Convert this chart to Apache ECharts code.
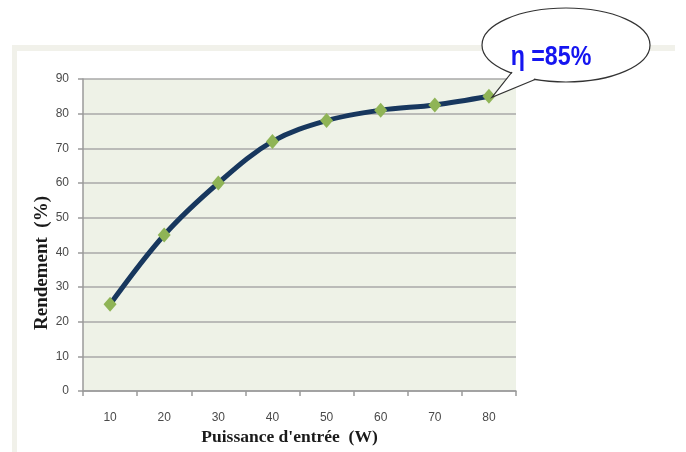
<!DOCTYPE html>
<html>
<head>
<meta charset="utf-8">
<script src="https://cdn.jsdelivr.net/npm/echarts@6/dist/echarts.min.js"></script>
<style>
  html, body { margin: 0; padding: 0; background: #ffffff; }
  #chart { width: 686px; height: 452px; }
</style>
</head>
<body>
<div id="chart"></div>
<script>
// Input power (W) and measured efficiency (%)
const puissance = ['10', '20', '30', '40', '50', '60', '70', '80'];
const rendement = [25, 45, 60, 72, 78, 81, 82.5, 85];
const yTicks = { min: 0, max: 90, interval: 10 };
const bubbleText = 'η =85%';

const chart = echarts.init(document.getElementById('chart'), null, { renderer: 'canvas' });

const option = {
  backgroundColor: '#ffffff',
  animation: false,
  grid: {
    left: 83, right: 170, top: 79, bottom: 61,
    outerBoundsMode: 'none',
    containLabel: false,
    show: true, backgroundColor: '#eef2e7', borderWidth: 0
  },
  xAxis: {
    type: 'category',
    data: puissance,
    boundaryGap: true,
    name: "Puissance d'entrée  (W)",
    nameLocation: 'middle',
    nameGap: 37,
    nameTextStyle: {
      fontFamily: 'Liberation Serif', fontWeight: 'bold', fontSize: 17.5,
      color: '#1a1a1a', padding: [0, 20, 0, 0]
    },
    axisLine: { show: true, lineStyle: { color: '#9a9a9a', width: 1.5 } },
    axisTick: { show: true, alignWithLabel: false, length: 5, lineStyle: { color: '#9a9a9a', width: 1.5 } },
    axisLabel: { margin: 21, fontFamily: 'Liberation Sans', fontSize: 12, color: '#4a4a4a' },
    splitLine: { show: false }
  },
  yAxis: {
    type: 'value',
    min: yTicks.min, max: yTicks.max, interval: yTicks.interval,
    name: 'Rendement  (%)',
    nameLocation: 'middle',
    nameGap: 31,
    nameMoveOverlap: false,
    nameRotate: 90,
    nameTextStyle: {
      fontFamily: 'Liberation Serif', fontWeight: 'bold', fontSize: 19,
      color: '#1a1a1a', padding: [0, 56, 0, 0]
    },
    axisLine: { show: true, lineStyle: { color: '#9a9a9a', width: 1.5 } },
    axisTick: { show: true, length: 5, lineStyle: { color: '#9a9a9a', width: 1.5 } },
    axisLabel: { margin: 14, fontFamily: 'Liberation Sans', fontSize: 12, color: '#4a4a4a' },
    splitLine: { show: true, lineStyle: { color: '#a8a8a8', width: 1.5 } }
  },
  series: [{
    type: 'line',
    data: rendement,
    smooth: 0.35,
    symbol: 'diamond',
    symbolSize: [13, 15],
    showAllSymbol: true,
    lineStyle: { color: '#17375e', width: 5 },
    itemStyle: { color: '#8fb456', borderWidth: 0 },
    z: 3
  }]
};

chart.setOption(option);

// Callout bubble pointing at the last measurement
const last = rendement.length - 1;
const tip = chart.convertToPixel({ seriesIndex: 0 }, [last, rendement[last]]);
const tipX = tip[0] + 3, tipY = tip[1] + 1;
const ell = { cx: 566, cy: 45, rx: 84, ry: 37 };
const baseA = [512, 72];
const baseB = [535, 79.5];

chart.setOption({
  graphic: [
    // light frame strips along top and left
    { type: 'rect', shape: { x: 12, y: 45, width: 663, height: 6 }, style: { fill: '#f1f1ea' }, z: 0, silent: true },
    { type: 'rect', shape: { x: 12, y: 45, width: 5, height: 420 }, style: { fill: '#f1f1ea' }, z: 0, silent: true },
    {
      type: 'ellipse',
      shape: ell,
      style: { fill: '#ffffff', stroke: '#333333', lineWidth: 1.2 },
      z: 10
    },
    {
      type: 'polygon',
      shape: { points: [[baseA[0] + 1, baseA[1] - 3], [baseA[0] + 1, baseA[1]], [tipX, tipY], [baseB[0] - 1, baseB[1]], [baseB[0] - 1, baseB[1] - 4]] },
      style: { fill: '#ffffff', stroke: null },
      z: 11
    },
    {
      type: 'polyline',
      shape: { points: [baseA, [tipX, tipY], baseB] },
      style: { stroke: '#333333', lineWidth: 1.2, fill: null },
      z: 12
    },
    {
      type: 'text',
      x: 551, y: 58,
      scaleX: 0.86,
      style: {
        text: bubbleText,
        fontFamily: 'Liberation Sans', fontWeight: 'bold', fontSize: 27,
        fill: '#1515f0', align: 'center', verticalAlign: 'middle'
      },
      z: 13
    }
  ]
});
</script>
</body>
</html>
